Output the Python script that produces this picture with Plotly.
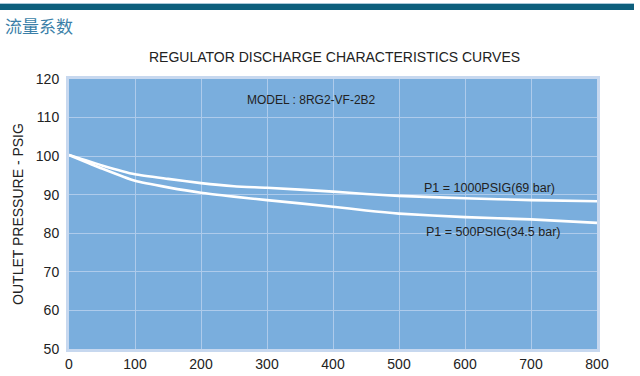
import plotly.graph_objects as go

flow = [0, 50, 100, 150, 200, 250, 300, 400, 450, 500, 600, 700, 800]
p1000 = [100.3, 97.6, 95.3, 94.1, 93.0, 92.2, 91.8, 90.8, 90.2, 89.7, 89.1, 88.6, 88.3]
p500 = [100.3, 96.8, 93.6, 91.9, 90.5, 89.5, 88.6, 86.9, 85.9, 85.1, 84.2, 83.6, 82.7]

x_ticks = [0, 100, 200, 300, 400, 500, 600, 700, 800]
y_ticks = [50, 60, 70, 80, 90, 100, 110, 120]

fig = go.Figure()
for ys in (p1000, p500):
    fig.add_trace(go.Scatter(x=flow, y=ys, mode="lines",
                             line=dict(color="white", width=2.6, shape="spline", smoothing=0.5),
                             showlegend=False, hoverinfo="skip"))

fig.update_layout(
    width=640, height=376,
    margin=dict(l=69, r=43, t=79, b=27, autoexpand=False),
    paper_bgcolor="white",
    plot_bgcolor="#7aaedd",
    font=dict(family="Liberation Sans, Arial, sans-serif", color="#222222", size=13),
    xaxis=dict(range=[0, 800], tickvals=x_ticks, showgrid=True, gridcolor="#aecbeb", gridwidth=1,
               showline=True, mirror=True, linecolor="#c7d8ef", linewidth=3, zeroline=False,
               automargin=False, ticks="", tickfont=dict(size=14, color="#222222")),
    yaxis=dict(range=[50, 120], tickvals=y_ticks, showgrid=True, gridcolor="#aecbeb", gridwidth=1,
               showline=True, mirror=True, linecolor="#c7d8ef", linewidth=3, zeroline=False,
               automargin=False, ticks="", ticklabelstandoff=4, tickfont=dict(size=14, color="#222222"),
               title=dict(text="OUTLET PRESSURE - PSIG", font=dict(size=14, color="#222222"), standoff=9)),
)

fig.add_annotation(text="REGULATOR DISCHARGE CHARACTERISTICS CURVES", xref="paper", yref="paper",
                   x=(334 - 69) / 528, y=1, yshift=22, showarrow=False,
                   font=dict(size=14, color="#222222"), xanchor="center", yanchor="middle")
fig.add_annotation(text="MODEL : 8RG2-VF-2B2", x=368, y=114.6, showarrow=False,
                   font=dict(size=12, color="#222222"))
fig.add_annotation(text="P1 = 1000PSIG(69 bar)", x=637, y=91.7, showarrow=False,
                   font=dict(size=12.5, color="#222222"))
fig.add_annotation(text="P1 = 500PSIG(34.5 bar)", x=643, y=80.3, showarrow=False,
                   font=dict(size=12.5, color="#222222"))
fig.add_annotation(text="流量系数", xref="paper", yref="paper", x=-69 / 528, y=1, yshift=54,
                   xshift=3, showarrow=False, xanchor="left", yanchor="middle",
                   font=dict(family="Noto Sans CJK SC", size=17, color="#3b7fa8"))

# top bar
fig.add_shape(type="rect", xref="paper", yref="paper", x0=-69 / 528, x1=(634 - 69) / 528,
              y0=1 + (79 - 4) / 270, y1=1 + (79 - 3) / 270, fillcolor="#a9c9da", line_width=0, layer="above")
fig.add_shape(type="rect", xref="paper", yref="paper", x0=-69 / 528, x1=(634 - 69) / 528,
              y0=1 + (79 - 10) / 270, y1=1 + (79 - 4) / 270, fillcolor="#0d5f7d", line_width=0, layer="above")

fig.write_html("out.html", config={"displayModeBar": False})

with open("out.html", "r", encoding="utf-8") as f:
    html = f.read()
html = html.replace("<body>", '<body style="margin:0;padding:0;overflow:hidden">', 1)
with open("out.html", "w", encoding="utf-8") as f:
    f.write(html)
